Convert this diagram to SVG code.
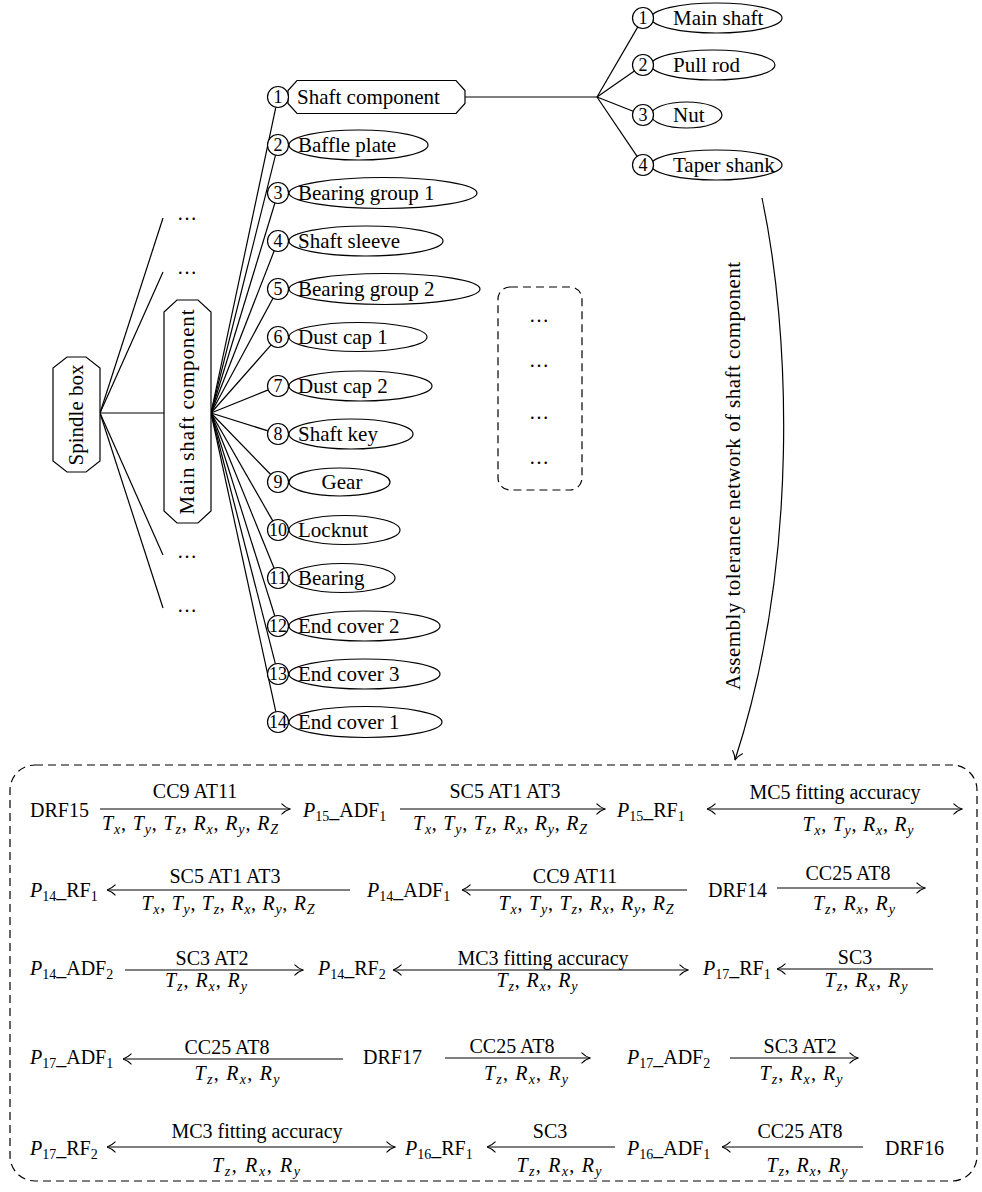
<svg xmlns="http://www.w3.org/2000/svg" width="982" height="1192" viewBox="0 0 982 1192">
<style>
.t{font-family:"Liberation Serif","Times New Roman",serif;font-size:20px;fill:#000}
.n{font-family:"Liberation Serif","Times New Roman",serif;font-size:21px;fill:#000}
.num{font-family:"Liberation Serif","Times New Roman",serif;font-size:18px;fill:#000;text-anchor:middle}
.i{font-style:italic}
.sb{font-size:14px}
.si{font-size:14px;font-style:italic}
.sh{fill:#fff;stroke:#000;stroke-width:1.2}
.ln{fill:none;stroke:#000;stroke-width:1.2}
.ar{fill:none;stroke:#000;stroke-width:1.2}
.ds{fill:none;stroke:#000;stroke-width:1.2;stroke-dasharray:8 5}
</style>
<defs>
<marker id="ah" viewBox="0 0 10 12" refX="9.5" refY="6" markerWidth="10" markerHeight="12" markerUnits="userSpaceOnUse" orient="auto-start-reverse">
<path d="M1,0.6 Q5,4.6 9.5,6 Q5,7.4 1,11.4" fill="none" stroke="#000" stroke-width="1.1"/>
</marker>
</defs>
<rect width="982" height="1192" fill="#fff"/>

<g id="connectors">
<!-- spindle box branches -->
<line class="ln" x1="100" y1="413" x2="163" y2="218"/>
<line class="ln" x1="100" y1="413" x2="163" y2="272"/>
<line class="ln" x1="100" y1="413" x2="164" y2="413"/>
<line class="ln" x1="100" y1="413" x2="163" y2="555"/>
<line class="ln" x1="100" y1="413" x2="163" y2="608"/>
<!-- main shaft component branches -->
<line class="ln" x1="211" y1="413" x2="275.8" y2="107.3"/>
<line class="ln" x1="211" y1="413" x2="275.5" y2="155.2"/>
<line class="ln" x1="211" y1="413" x2="274.9" y2="203"/>
<line class="ln" x1="211" y1="413" x2="274.2" y2="250.8"/>
<line class="ln" x1="211" y1="413" x2="273" y2="298.2"/>
<line class="ln" x1="211" y1="413" x2="271.1" y2="344.9"/>
<line class="ln" x1="211" y1="413" x2="268.3" y2="389.9"/>
<line class="ln" x1="211" y1="413" x2="268" y2="430.9"/>
<line class="ln" x1="211" y1="413" x2="270.7" y2="474.5"/>
<line class="ln" x1="211" y1="413" x2="272.8" y2="520.9"/>
<line class="ln" x1="211" y1="413" x2="274.1" y2="568.3"/>
<line class="ln" x1="211" y1="413" x2="274.8" y2="616"/>
<line class="ln" x1="211" y1="413" x2="275.4" y2="663.8"/>
<line class="ln" x1="211" y1="413" x2="275.8" y2="711.7"/>
<!-- shaft component sub branches -->
<line class="ln" x1="465" y1="97" x2="597" y2="97"/>
<line class="ln" x1="597" y1="97" x2="637.7" y2="27.1"/>
<line class="ln" x1="597" y1="97" x2="634.4" y2="71"/>
<line class="ln" x1="597" y1="97" x2="633.2" y2="111.2"/>
<line class="ln" x1="597" y1="97" x2="637.1" y2="156.3"/>
<!-- curved arrow -->
<path class="ar" d="M762,198 C790,330 800,560 735,760" marker-end="url(#ah)"/>
<!-- row 1 -->
<line class="ar" x1="100" y1="809" x2="290" y2="809" marker-end="url(#ah)"/>
<line class="ar" x1="400" y1="809" x2="605" y2="809" marker-end="url(#ah)"/>
<line class="ar" x1="707" y1="809" x2="962" y2="809" marker-start="url(#ah)" marker-end="url(#ah)"/>
<!-- row 2 -->
<line class="ar" x1="107" y1="890" x2="350" y2="890" marker-start="url(#ah)"/>
<line class="ar" x1="462" y1="890" x2="687" y2="890" marker-start="url(#ah)"/>
<line class="ar" x1="777" y1="888" x2="925" y2="888" marker-end="url(#ah)"/>
<!-- row 3 -->
<line class="ar" x1="125" y1="970" x2="303" y2="970" marker-end="url(#ah)"/>
<line class="ar" x1="393" y1="970" x2="688" y2="970" marker-start="url(#ah)" marker-end="url(#ah)"/>
<line class="ar" x1="777" y1="969" x2="933" y2="969" marker-start="url(#ah)"/>
<!-- row 4 -->
<line class="ar" x1="123" y1="1059" x2="343" y2="1059" marker-start="url(#ah)"/>
<line class="ar" x1="445" y1="1058" x2="590" y2="1058" marker-end="url(#ah)"/>
<line class="ar" x1="730" y1="1058" x2="858" y2="1058" marker-end="url(#ah)"/>
<!-- row 5 -->
<line class="ar" x1="107" y1="1147" x2="395" y2="1147" marker-start="url(#ah)" marker-end="url(#ah)"/>
<line class="ar" x1="487" y1="1147" x2="615" y2="1147" marker-start="url(#ah)"/>
<line class="ar" x1="722" y1="1147" x2="863" y2="1147" marker-start="url(#ah)"/>
</g>

<g id="spindle-box">
<polygon class="sh" points="67,357 86,357 100,368 100,461 86,472 67,472 53,461 53,368"/>
<text class="n" transform="translate(83,415) rotate(-90)" text-anchor="middle">Spindle box</text>
</g>
<g id="main-shaft-component">
<polygon class="sh" points="177,300 198,300 211,312 211,511 198,523 177,523 164,511 164,312"/>
<text class="n" transform="translate(194,412) rotate(-90)" text-anchor="middle" textLength="205">Main shaft component</text>
</g>
<g id="other-branches">
<text class="t" x="177" y="220">…</text>
<text class="t" x="177" y="274">…</text>
<text class="t" x="177" y="558">…</text>
<text class="t" x="177" y="612">…</text>
</g>

<g id="item-1">
<polygon class="sh" points="297,80.5 456,80.5 465,90.5 465,103.5 456,113.5 297,113.5 288,103.5 288,90.5"/>
<circle class="sh" cx="278" cy="97" r="10.5"/>
<text class="num" x="278" y="103">1</text>
<text class="n" x="297" y="104">Shaft component</text>
</g>
<g id="item-2">
<ellipse class="sh" cx="358.5" cy="145" rx="69.5" ry="15"/>
<circle class="sh" cx="278" cy="145" r="10.5"/>
<text class="num" x="278" y="151">2</text>
<text class="n" x="298" y="152">Baffle plate</text>
</g>
<g id="item-3">
<ellipse class="sh" cx="383" cy="193" rx="94" ry="15.5"/>
<circle class="sh" cx="278" cy="193" r="10.5"/>
<text class="num" x="278" y="199">3</text>
<text class="n" x="298" y="200">Bearing group 1</text>
</g>
<g id="item-4">
<ellipse class="sh" cx="366" cy="241" rx="77" ry="15"/>
<circle class="sh" cx="278" cy="241" r="10.5"/>
<text class="num" x="278" y="247">4</text>
<text class="n" x="298" y="248">Shaft sleeve</text>
</g>
<g id="item-5">
<ellipse class="sh" cx="384.5" cy="289" rx="95.5" ry="15.5"/>
<circle class="sh" cx="278" cy="289" r="10.5"/>
<text class="num" x="278" y="295">5</text>
<text class="n" x="298" y="296">Bearing group 2</text>
</g>
<g id="item-6">
<ellipse class="sh" cx="358" cy="337" rx="69" ry="14.5"/>
<circle class="sh" cx="278" cy="337" r="10.5"/>
<text class="num" x="278" y="343">6</text>
<text class="n" x="298" y="344">Dust cap 1</text>
</g>
<g id="item-7">
<ellipse class="sh" cx="360.5" cy="386" rx="71.5" ry="15"/>
<circle class="sh" cx="278" cy="386" r="10.5"/>
<text class="num" x="278" y="392">7</text>
<text class="n" x="298" y="393">Dust cap 2</text>
</g>
<g id="item-8">
<ellipse class="sh" cx="351" cy="434" rx="62" ry="15"/>
<circle class="sh" cx="278" cy="434" r="10.5"/>
<text class="num" x="278" y="440">8</text>
<text class="n" x="298" y="441">Shaft key</text>
</g>
<g id="item-9">
<ellipse class="sh" cx="339.5" cy="482" rx="50.5" ry="14"/>
<circle class="sh" cx="278" cy="482" r="10.5"/>
<text class="num" x="278" y="488">9</text>
<text class="n" x="342" y="489" text-anchor="middle">Gear</text>
</g>
<g id="item-10">
<ellipse class="sh" cx="344.5" cy="530" rx="55.5" ry="14.5"/>
<circle class="sh" cx="278" cy="530" r="10.5"/>
<text class="num" x="278" y="536">10</text>
<text class="n" x="298" y="537">Locknut</text>
</g>
<g id="item-11">
<ellipse class="sh" cx="342" cy="578" rx="53" ry="14.5"/>
<circle class="sh" cx="278" cy="578" r="10.5"/>
<text class="num" x="278" y="584">11</text>
<text class="n" x="298" y="585">Bearing</text>
</g>
<g id="item-12">
<ellipse class="sh" cx="364.5" cy="626" rx="75.5" ry="15"/>
<circle class="sh" cx="278" cy="626" r="10.5"/>
<text class="num" x="278" y="632">12</text>
<text class="n" x="298" y="633">End cover 2</text>
</g>
<g id="item-13">
<ellipse class="sh" cx="364.5" cy="674" rx="75.5" ry="15"/>
<circle class="sh" cx="278" cy="674" r="10.5"/>
<text class="num" x="278" y="680">13</text>
<text class="n" x="298" y="681">End cover 3</text>
</g>
<g id="item-14">
<ellipse class="sh" cx="365.5" cy="722" rx="76.5" ry="15.5"/>
<circle class="sh" cx="278" cy="722" r="10.5"/>
<text class="num" x="278" y="728">14</text>
<text class="n" x="298" y="729">End cover 1</text>
</g>

<g id="sub-1">
<ellipse class="sh" cx="716.5" cy="18" rx="65.5" ry="15"/>
<circle class="sh" cx="643" cy="18" r="10.5"/>
<text class="num" x="643" y="24">1</text>
<text class="n" x="673" y="25">Main shaft</text>
</g>
<g id="sub-2">
<ellipse class="sh" cx="713" cy="65" rx="62" ry="15"/>
<circle class="sh" cx="643" cy="65" r="10.5"/>
<text class="num" x="643" y="71">2</text>
<text class="n" x="673" y="72">Pull rod</text>
</g>
<g id="sub-3">
<ellipse class="sh" cx="686.5" cy="115" rx="35.5" ry="13"/>
<circle class="sh" cx="643" cy="115" r="10.5"/>
<text class="num" x="643" y="121">3</text>
<text class="n" x="673" y="122">Nut</text>
</g>
<g id="sub-4">
<ellipse class="sh" cx="716.5" cy="165" rx="65.5" ry="15"/>
<circle class="sh" cx="643" cy="165" r="10.5"/>
<text class="num" x="643" y="171">4</text>
<text class="n" x="673" y="172">Taper shank</text>
</g>

<g id="more-components">
<rect class="ds" x="498" y="287" width="84" height="203" rx="12"/>
<text class="t" x="529" y="322">…</text>
<text class="t" x="529" y="367">…</text>
<text class="t" x="529" y="419">…</text>
<text class="t" x="529" y="464">…</text>
</g>

<g id="network-label">
<text class="n" transform="translate(740,476) rotate(-90)" text-anchor="middle" textLength="428">Assembly tolerance network of shaft component</text>
</g>

<g id="tolerance-network">
<rect class="ds" x="10" y="765" width="967" height="416" rx="25"/>
</g>

<!-- row 1 nodes -->
<g id="DRF15"><text class="t" x="30" y="817">DRF15</text></g>
<g id="P15_ADF1"><text class="t" x="303" y="817"><tspan class="i">P</tspan><tspan class="sb" dy="4">15</tspan><tspan dy="-4">_ADF</tspan><tspan class="sb" dy="4">1</tspan></text></g>
<g id="P15_RF1"><text class="t" x="617" y="817"><tspan class="i">P</tspan><tspan class="sb" dy="4">15</tspan><tspan dy="-4">_RF</tspan><tspan class="sb" dy="4">1</tspan></text></g>
<!-- row 2 nodes -->
<g id="P14_RF1"><text class="t" x="30" y="897"><tspan class="i">P</tspan><tspan class="sb" dy="4">14</tspan><tspan dy="-4">_RF</tspan><tspan class="sb" dy="4">1</tspan></text></g>
<g id="P14_ADF1"><text class="t" x="367" y="897"><tspan class="i">P</tspan><tspan class="sb" dy="4">14</tspan><tspan dy="-4">_ADF</tspan><tspan class="sb" dy="4">1</tspan></text></g>
<g id="DRF14"><text class="t" x="708" y="897">DRF14</text></g>
<!-- row 3 nodes -->
<g id="P14_ADF2"><text class="t" x="30" y="975"><tspan class="i">P</tspan><tspan class="sb" dy="4">14</tspan><tspan dy="-4">_ADF</tspan><tspan class="sb" dy="4">2</tspan></text></g>
<g id="P14_RF2"><text class="t" x="318" y="975"><tspan class="i">P</tspan><tspan class="sb" dy="4">14</tspan><tspan dy="-4">_RF</tspan><tspan class="sb" dy="4">2</tspan></text></g>
<g id="P17_RF1"><text class="t" x="703" y="975"><tspan class="i">P</tspan><tspan class="sb" dy="4">17</tspan><tspan dy="-4">_RF</tspan><tspan class="sb" dy="4">1</tspan></text></g>
<!-- row 4 nodes -->
<g id="P17_ADF1"><text class="t" x="30" y="1064"><tspan class="i">P</tspan><tspan class="sb" dy="4">17</tspan><tspan dy="-4">_ADF</tspan><tspan class="sb" dy="4">1</tspan></text></g>
<g id="DRF17"><text class="t" x="363" y="1064">DRF17</text></g>
<g id="P17_ADF2"><text class="t" x="627" y="1064"><tspan class="i">P</tspan><tspan class="sb" dy="4">17</tspan><tspan dy="-4">_ADF</tspan><tspan class="sb" dy="4">2</tspan></text></g>
<!-- row 5 nodes -->
<g id="P17_RF2"><text class="t" x="30" y="1155"><tspan class="i">P</tspan><tspan class="sb" dy="4">17</tspan><tspan dy="-4">_RF</tspan><tspan class="sb" dy="4">2</tspan></text></g>
<g id="P16_RF1"><text class="t" x="405" y="1155"><tspan class="i">P</tspan><tspan class="sb" dy="4">16</tspan><tspan dy="-4">_RF</tspan><tspan class="sb" dy="4">1</tspan></text></g>
<g id="P16_ADF1"><text class="t" x="627" y="1155"><tspan class="i">P</tspan><tspan class="sb" dy="4">16</tspan><tspan dy="-4">_ADF</tspan><tspan class="sb" dy="4">1</tspan></text></g>
<g id="DRF16"><text class="t" x="885" y="1155">DRF16</text></g>

<g id="edge-labels" text-anchor="middle">
<!-- row 1 -->
<text class="t" x="195" y="798">CC9 AT11</text>
<text class="t" x="190" y="830" textLength="176"><tspan class="i">T</tspan><tspan class="si" dy="4">x</tspan><tspan dy="-4">, </tspan><tspan class="i">T</tspan><tspan class="si" dy="4">y</tspan><tspan dy="-4">, </tspan><tspan class="i">T</tspan><tspan class="si" dy="4">z</tspan><tspan dy="-4">, </tspan><tspan class="i">R</tspan><tspan class="si" dy="4">x</tspan><tspan dy="-4">, </tspan><tspan class="i">R</tspan><tspan class="si" dy="4">y</tspan><tspan dy="-4">, </tspan><tspan class="i">R</tspan><tspan class="si" dy="4">Z</tspan></text>
<text class="t" x="505" y="798">SC5 AT1 AT3</text>
<text class="t" x="500" y="830" textLength="174"><tspan class="i">T</tspan><tspan class="si" dy="4">x</tspan><tspan dy="-4">, </tspan><tspan class="i">T</tspan><tspan class="si" dy="4">y</tspan><tspan dy="-4">, </tspan><tspan class="i">T</tspan><tspan class="si" dy="4">z</tspan><tspan dy="-4">, </tspan><tspan class="i">R</tspan><tspan class="si" dy="4">x</tspan><tspan dy="-4">, </tspan><tspan class="i">R</tspan><tspan class="si" dy="4">y</tspan><tspan dy="-4">, </tspan><tspan class="i">R</tspan><tspan class="si" dy="4">Z</tspan></text>
<text class="t" x="835" y="799">MC5 fitting accuracy</text>
<text class="t" x="858" y="831" textLength="111"><tspan class="i">T</tspan><tspan class="si" dy="4">x</tspan><tspan dy="-4">, </tspan><tspan class="i">T</tspan><tspan class="si" dy="4">y</tspan><tspan dy="-4">, </tspan><tspan class="i">R</tspan><tspan class="si" dy="4">x</tspan><tspan dy="-4">, </tspan><tspan class="i">R</tspan><tspan class="si" dy="4">y</tspan></text>
<!-- row 2 -->
<text class="t" x="225" y="883">SC5 AT1 AT3</text>
<text class="t" x="228" y="910" textLength="173"><tspan class="i">T</tspan><tspan class="si" dy="4">x</tspan><tspan dy="-4">, </tspan><tspan class="i">T</tspan><tspan class="si" dy="4">y</tspan><tspan dy="-4">, </tspan><tspan class="i">T</tspan><tspan class="si" dy="4">z</tspan><tspan dy="-4">, </tspan><tspan class="i">R</tspan><tspan class="si" dy="4">x</tspan><tspan dy="-4">, </tspan><tspan class="i">R</tspan><tspan class="si" dy="4">y</tspan><tspan dy="-4">, </tspan><tspan class="i">R</tspan><tspan class="si" dy="4">Z</tspan></text>
<text class="t" x="575" y="883">CC9 AT11</text>
<text class="t" x="586" y="910" textLength="175"><tspan class="i">T</tspan><tspan class="si" dy="4">x</tspan><tspan dy="-4">, </tspan><tspan class="i">T</tspan><tspan class="si" dy="4">y</tspan><tspan dy="-4">, </tspan><tspan class="i">T</tspan><tspan class="si" dy="4">z</tspan><tspan dy="-4">, </tspan><tspan class="i">R</tspan><tspan class="si" dy="4">x</tspan><tspan dy="-4">, </tspan><tspan class="i">R</tspan><tspan class="si" dy="4">y</tspan><tspan dy="-4">, </tspan><tspan class="i">R</tspan><tspan class="si" dy="4">Z</tspan></text>
<text class="t" x="848" y="880">CC25 AT8</text>
<text class="t" x="854" y="910" textLength="82"><tspan class="i">T</tspan><tspan class="si" dy="4">z</tspan><tspan dy="-4">, </tspan><tspan class="i">R</tspan><tspan class="si" dy="4">x</tspan><tspan dy="-4">, </tspan><tspan class="i">R</tspan><tspan class="si" dy="4">y</tspan></text>
<!-- row 3 -->
<text class="t" x="212" y="965">SC3 AT2</text>
<text class="t" x="206" y="987" textLength="82"><tspan class="i">T</tspan><tspan class="si" dy="4">z</tspan><tspan dy="-4">, </tspan><tspan class="i">R</tspan><tspan class="si" dy="4">x</tspan><tspan dy="-4">, </tspan><tspan class="i">R</tspan><tspan class="si" dy="4">y</tspan></text>
<text class="t" x="543" y="965">MC3 fitting accuracy</text>
<text class="t" x="537" y="987" textLength="81"><tspan class="i">T</tspan><tspan class="si" dy="4">z</tspan><tspan dy="-4">, </tspan><tspan class="i">R</tspan><tspan class="si" dy="4">x</tspan><tspan dy="-4">, </tspan><tspan class="i">R</tspan><tspan class="si" dy="4">y</tspan></text>
<text class="t" x="855" y="964">SC3</text>
<text class="t" x="866" y="987" textLength="83"><tspan class="i">T</tspan><tspan class="si" dy="4">z</tspan><tspan dy="-4">, </tspan><tspan class="i">R</tspan><tspan class="si" dy="4">x</tspan><tspan dy="-4">, </tspan><tspan class="i">R</tspan><tspan class="si" dy="4">y</tspan></text>
<!-- row 4 -->
<text class="t" x="227" y="1054">CC25 AT8</text>
<text class="t" x="237" y="1080" textLength="85"><tspan class="i">T</tspan><tspan class="si" dy="4">z</tspan><tspan dy="-4">, </tspan><tspan class="i">R</tspan><tspan class="si" dy="4">x</tspan><tspan dy="-4">, </tspan><tspan class="i">R</tspan><tspan class="si" dy="4">y</tspan></text>
<text class="t" x="512" y="1053">CC25 AT8</text>
<text class="t" x="526" y="1080" textLength="84"><tspan class="i">T</tspan><tspan class="si" dy="4">z</tspan><tspan dy="-4">, </tspan><tspan class="i">R</tspan><tspan class="si" dy="4">x</tspan><tspan dy="-4">, </tspan><tspan class="i">R</tspan><tspan class="si" dy="4">y</tspan></text>
<text class="t" x="800" y="1053">SC3 AT2</text>
<text class="t" x="801" y="1080" textLength="83"><tspan class="i">T</tspan><tspan class="si" dy="4">z</tspan><tspan dy="-4">, </tspan><tspan class="i">R</tspan><tspan class="si" dy="4">x</tspan><tspan dy="-4">, </tspan><tspan class="i">R</tspan><tspan class="si" dy="4">y</tspan></text>
<!-- row 5 -->
<text class="t" x="257" y="1138">MC3 fitting accuracy</text>
<text class="t" x="256" y="1172" textLength="88"><tspan class="i">T</tspan><tspan class="si" dy="4">z</tspan><tspan dy="-4">, </tspan><tspan class="i">R</tspan><tspan class="si" dy="4">x</tspan><tspan dy="-4">, </tspan><tspan class="i">R</tspan><tspan class="si" dy="4">y</tspan></text>
<text class="t" x="550" y="1138">SC3</text>
<text class="t" x="559" y="1172" textLength="85"><tspan class="i">T</tspan><tspan class="si" dy="4">z</tspan><tspan dy="-4">, </tspan><tspan class="i">R</tspan><tspan class="si" dy="4">x</tspan><tspan dy="-4">, </tspan><tspan class="i">R</tspan><tspan class="si" dy="4">y</tspan></text>
<text class="t" x="800" y="1138">CC25 AT8</text>
<text class="t" x="807" y="1172" textLength="81"><tspan class="i">T</tspan><tspan class="si" dy="4">z</tspan><tspan dy="-4">, </tspan><tspan class="i">R</tspan><tspan class="si" dy="4">x</tspan><tspan dy="-4">, </tspan><tspan class="i">R</tspan><tspan class="si" dy="4">y</tspan></text>
</g>
</svg>
